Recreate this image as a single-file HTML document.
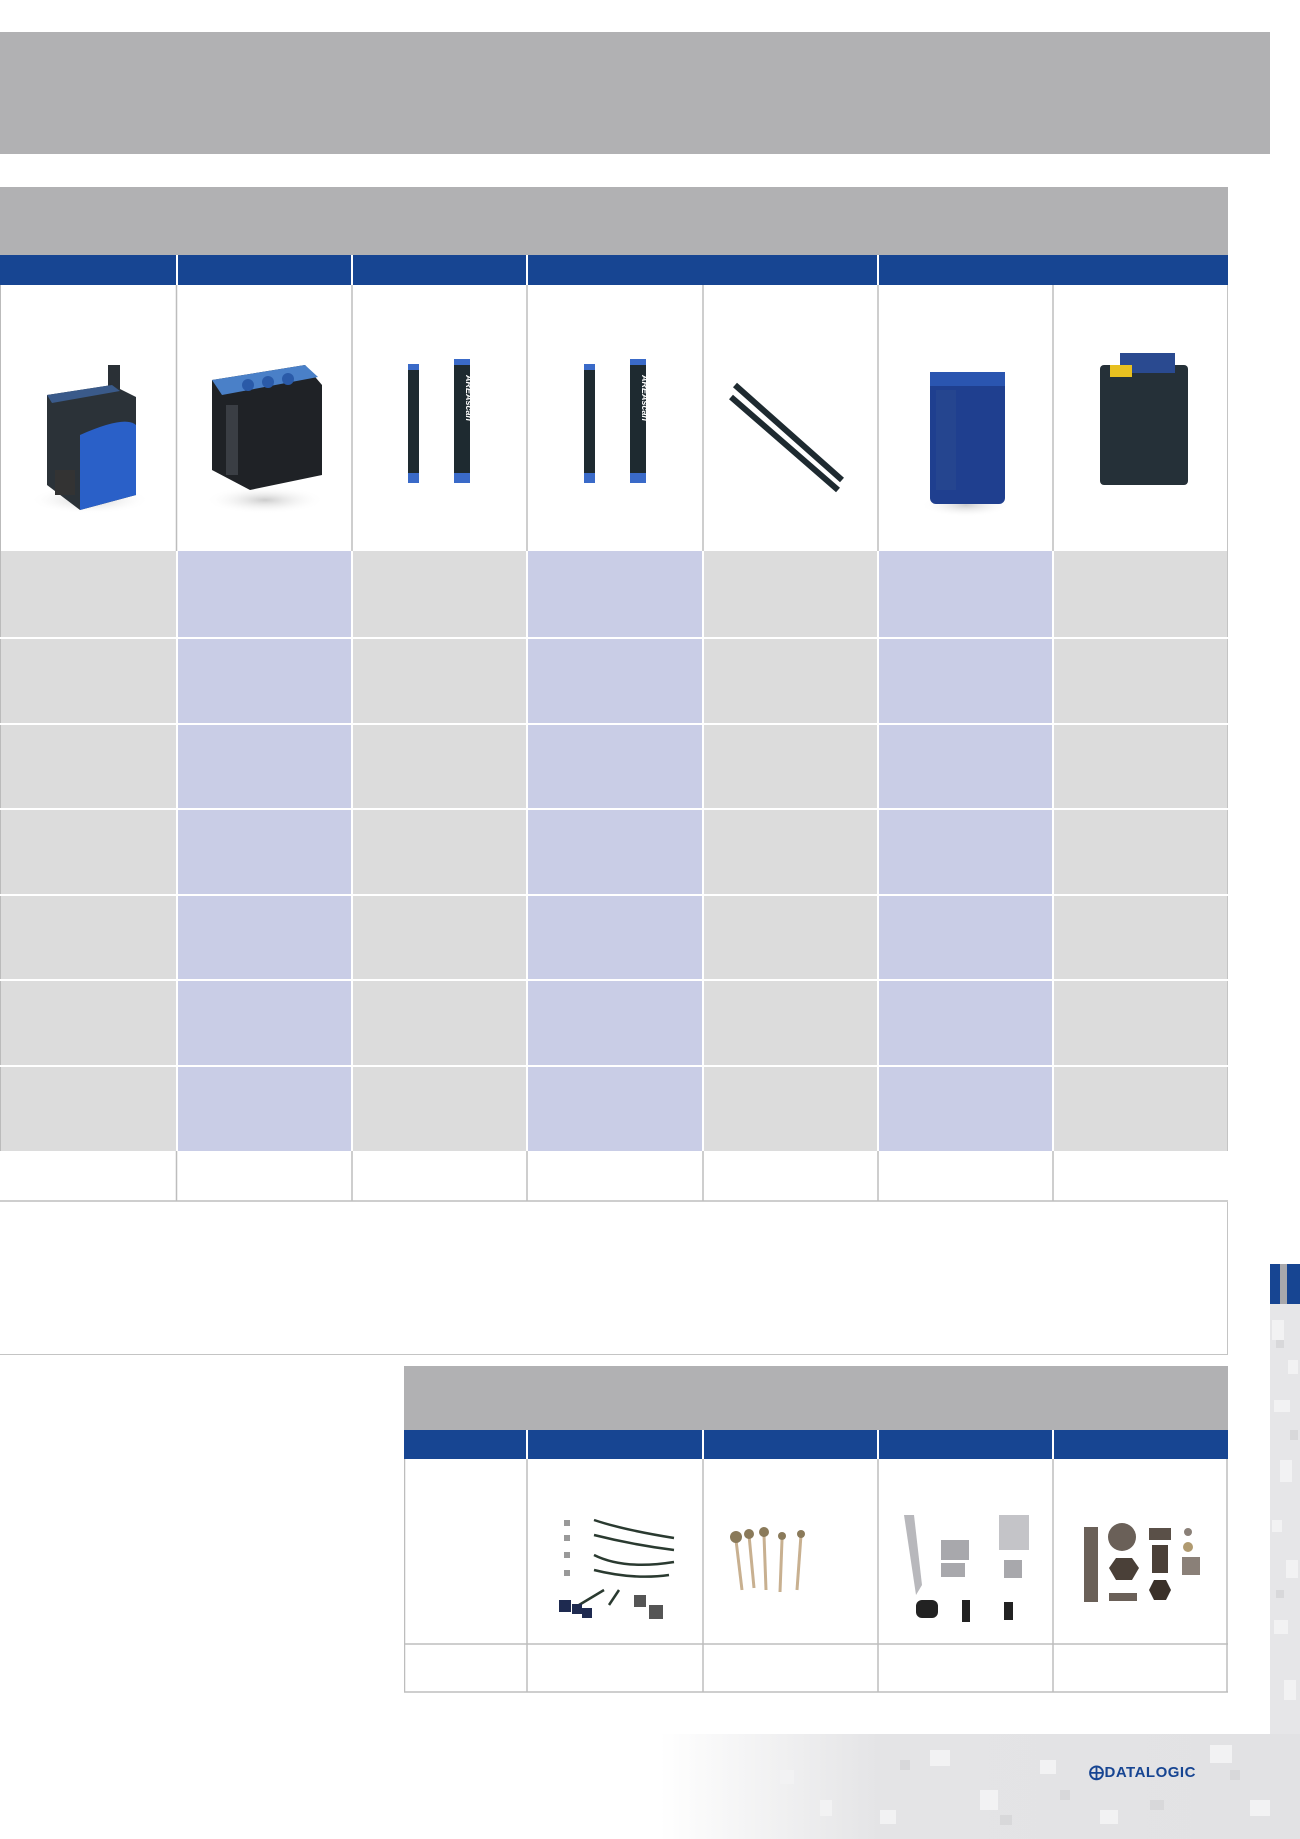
<!DOCTYPE html>
<html><head><meta charset="utf-8">
<style>
html,body{margin:0;padding:0}
body{width:1300px;height:1839px;position:relative;overflow:hidden;background:#fff;font-family:"Liberation Sans",sans-serif}
.a{position:absolute}
</style></head><body>
<!-- background pattern right & bottom -->
<div class="a" style="left:1270px;top:1304px;width:30px;height:535px;background:#e6e6e8"></div>
<div class="a" style="left:0;top:1734px;width:1300px;height:105px;background:linear-gradient(90deg,#fff 0,#fff 660px,#e4e4e6 880px,#e2e2e4 100%)"></div>
<svg class="a" style="left:0;top:0" width="1300" height="1839">
 <g fill="#f2f2f3">
  <rect x="1272" y="1320" width="12" height="20"/><rect x="1288" y="1360" width="10" height="14"/><rect x="1274" y="1400" width="16" height="12"/>
  <rect x="1280" y="1460" width="12" height="22"/><rect x="1272" y="1520" width="10" height="12"/><rect x="1286" y="1560" width="12" height="18"/>
  <rect x="1274" y="1620" width="14" height="14"/><rect x="1284" y="1680" width="12" height="20"/>
  <rect x="930" y="1750" width="20" height="16"/><rect x="980" y="1790" width="18" height="20"/><rect x="1040" y="1760" width="16" height="14"/>
  <rect x="1210" y="1745" width="22" height="18"/><rect x="1250" y="1800" width="20" height="16"/><rect x="880" y="1810" width="16" height="14"/>
  <rect x="780" y="1770" width="14" height="14"/><rect x="820" y="1800" width="12" height="16"/><rect x="1100" y="1810" width="18" height="14"/>
 </g>
 <g fill="#d8d8da">
  <rect x="1276" y="1340" width="8" height="8"/><rect x="1290" y="1430" width="8" height="10"/><rect x="1276" y="1590" width="8" height="8"/>
  <rect x="1000" y="1815" width="12" height="10"/><rect x="1150" y="1800" width="14" height="10"/><rect x="1230" y="1770" width="10" height="10"/>
  <rect x="900" y="1760" width="10" height="10"/><rect x="1060" y="1790" width="10" height="10"/>
 </g>
</svg>
<div class="a" style="left:0;top:0;width:1270px;height:1734px;background:#fff"></div>

<!-- top gray band -->
<div class="a" style="left:0;top:32px;width:1270px;height:122px;background:#b1b1b3"></div>
<!-- main table header -->
<div class="a" style="left:0;top:187px;width:1228px;height:68px;background:#b1b1b3"></div>
<div class="a" style="left:0;top:255px;width:1228px;height:30px;background:#174592"></div>
<div class="a" style="left:176px;top:255px;width:2px;height:30px;background:#fff"></div>
<div class="a" style="left:351px;top:255px;width:2px;height:30px;background:#fff"></div>
<div class="a" style="left:526px;top:255px;width:2px;height:30px;background:#fff"></div>
<div class="a" style="left:877px;top:255px;width:2px;height:30px;background:#fff"></div>

<!-- image row borders -->
<div class="a" style="left:0;top:285px;width:1px;height:916px;background:#bbb"></div>
<div class="a" style="left:1227px;top:285px;width:1px;height:1070px;background:#c4c4c4"></div>
<svg class="a" style="left:0;top:285px" width="1228" height="916">
 <g stroke="#bdbdbd" stroke-width="1.5">
  <line x1="176.5" y1="0" x2="176.5" y2="916"/><line x1="352" y1="0" x2="352" y2="916"/>
  <line x1="527" y1="0" x2="527" y2="916"/><line x1="703" y1="0" x2="703" y2="916"/>
  <line x1="878" y1="0" x2="878" y2="916"/><line x1="1053" y1="0" x2="1053" y2="916"/>
 </g>
</svg>
<!-- data rows -->
<svg class="a" style="left:0;top:551px" width="1228" height="651">
 <g>
  <rect x="1" y="0" width="175" height="600" fill="#dcdcdc"/>
  <rect x="178" y="0" width="173" height="600" fill="#c9cde6"/>
  <rect x="353" y="0" width="173" height="600" fill="#dcdcdc"/>
  <rect x="528" y="0" width="174" height="600" fill="#c9cde6"/>
  <rect x="704" y="0" width="173" height="600" fill="#dcdcdc"/>
  <rect x="879" y="0" width="173" height="600" fill="#c9cde6"/>
  <rect x="1054" y="0" width="173" height="600" fill="#dcdcdc"/>
 </g>
 <g fill="#fff">
  <rect x="0" y="86" width="1228" height="2"/><rect x="0" y="172" width="1228" height="2"/>
  <rect x="0" y="257" width="1228" height="2"/><rect x="0" y="343" width="1228" height="2"/>
  <rect x="0" y="428" width="1228" height="2"/><rect x="0" y="514" width="1228" height="2"/>
  <rect x="0" y="600" width="1228" height="51"/>
  <rect x="176" y="0" width="2" height="600"/><rect x="351" y="0" width="2" height="600"/>
  <rect x="526" y="0" width="2" height="600"/><rect x="702" y="0" width="2" height="600"/>
  <rect x="877" y="0" width="2" height="600"/><rect x="1052" y="0" width="2" height="600"/>
 </g>
 <g stroke="#bdbdbd" stroke-width="1.5">
  <line x1="176.5" y1="600" x2="176.5" y2="650"/><line x1="352" y1="600" x2="352" y2="650"/>
  <line x1="527" y1="600" x2="527" y2="650"/><line x1="703" y1="600" x2="703" y2="650"/>
  <line x1="878" y1="600" x2="878" y2="650"/><line x1="1053" y1="600" x2="1053" y2="650"/>
  <line x1="0" y1="650" x2="1228" y2="650"/>
 </g>
</svg>
<div class="a" style="left:0;top:1354px;width:1228px;height:1px;background:#c4c4c4"></div>

<!-- product images -->
<svg class="a" style="left:0;top:285px" width="1228" height="266">
 <defs>
  <radialGradient id="sh"><stop offset="0" stop-color="#999" stop-opacity=".5"/><stop offset="1" stop-color="#fff" stop-opacity="0"/></radialGradient>
 </defs>
 <ellipse cx="90" cy="215" rx="60" ry="14" fill="url(#sh)"/>
 <rect x="108" y="80" width="12" height="30" fill="#2a3036"/>
 <polygon points="47,110 112,100 136,112 136,210 80,225 47,200" fill="#2b3238"/>
 <polygon points="47,110 112,100 120,106 52,118" fill="#3a5a8a"/>
 <path d="M80,150 Q125,130 136,140 L136,210 L80,225 Z" fill="#2a60c8"/>
 <rect x="55" y="185" width="20" height="25" fill="#333"/>
 <ellipse cx="265" cy="215" rx="60" ry="14" fill="url(#sh)"/>
 <polygon points="212,95 305,80 322,100 322,190 250,205 212,185" fill="#1f2226"/>
 <polygon points="212,95 305,80 318,92 222,110" fill="#4a80c8"/>
 <circle cx="248" cy="100" r="6" fill="#2a5aa8"/><circle cx="268" cy="97" r="6" fill="#2a5aa8"/><circle cx="288" cy="94" r="6" fill="#2a5aa8"/>
 <rect x="226" y="120" width="12" height="70" fill="#3a3e44"/>
 <rect x="408" y="79" width="11" height="117" fill="#1e2a30"/><rect x="408" y="79" width="11" height="6" fill="#3a6ac8"/><rect x="408" y="188" width="11" height="10" fill="#3a6ac8"/>
 <rect x="454" y="74" width="16" height="122" fill="#1e2a30"/><rect x="454" y="74" width="16" height="6" fill="#3a6ac8"/><rect x="454" y="188" width="16" height="10" fill="#3a6ac8"/>
 <text x="0" y="0" transform="translate(466,90) rotate(90)" font-size="9" fill="#fff" font-style="italic" font-weight="bold">AREAscan</text>
 <rect x="584" y="79" width="11" height="117" fill="#1e2a30"/><rect x="584" y="79" width="11" height="6" fill="#3a6ac8"/><rect x="584" y="188" width="11" height="10" fill="#3a6ac8"/>
 <rect x="630" y="74" width="16" height="122" fill="#1e2a30"/><rect x="630" y="74" width="16" height="6" fill="#3a6ac8"/><rect x="630" y="188" width="16" height="10" fill="#3a6ac8"/>
 <text x="0" y="0" transform="translate(642,90) rotate(90)" font-size="9" fill="#fff" font-style="italic" font-weight="bold">AREAscan</text>
 <line x1="735" y1="100" x2="842" y2="195" stroke="#1e2a30" stroke-width="6"/>
 <line x1="731" y1="112" x2="838" y2="205" stroke="#1e2a30" stroke-width="6"/>
 <ellipse cx="966" cy="220" rx="45" ry="12" fill="url(#sh)"/>
 <rect x="930" y="87" width="75" height="132" rx="6" fill="#1f3f8f"/>
 <rect x="930" y="87" width="75" height="14" fill="#2a55b0"/>
 <rect x="936" y="105" width="20" height="100" fill="#2a4a90" opacity=".6"/>
 <rect x="1100" y="80" width="88" height="120" rx="4" fill="#253038"/>
 <rect x="1120" y="68" width="55" height="20" fill="#2a4a90"/>
 <rect x="1110" y="80" width="22" height="12" fill="#e8c020"/>
</svg>

<!-- bottom table -->
<div class="a" style="left:404px;top:1366px;width:824px;height:64px;background:#b1b1b3"></div>
<div class="a" style="left:404px;top:1430px;width:824px;height:29px;background:#174592"></div>
<svg class="a" style="left:404px;top:1430px" width="824" height="263">
 <g fill="#fff"><rect x="122" y="0" width="2" height="29"/><rect x="298" y="0" width="2" height="29"/><rect x="473" y="0" width="2" height="29"/><rect x="648" y="0" width="2" height="29"/></g>
 <g stroke="#bdbdbd" stroke-width="1.5">
  <line x1="0.5" y1="29" x2="0.5" y2="262"/><line x1="123" y1="29" x2="123" y2="262"/><line x1="299" y1="29" x2="299" y2="262"/>
  <line x1="474" y1="29" x2="474" y2="262"/><line x1="649" y1="29" x2="649" y2="262"/><line x1="823" y1="29" x2="823" y2="262"/>
  <line x1="0" y1="214" x2="824" y2="214"/><line x1="0" y1="262" x2="824" y2="262"/>
 </g>
 <g stroke="#2a3a30" stroke-width="2.5" fill="none">
  <path d="M190,90 Q220,100 270,108"/><path d="M190,105 Q230,115 270,120"/><path d="M190,125 Q220,140 270,132"/><path d="M190,140 Q230,150 265,145"/>
  <path d="M175,175 L200,160"/><path d="M205,175 L215,160"/>
 </g>
 <g fill="#999"><rect x="160" y="90" width="6" height="6"/><rect x="160" y="105" width="6" height="6"/><rect x="160" y="122" width="6" height="6"/><rect x="160" y="140" width="6" height="6"/></g>
 <g fill="#1e2a50"><rect x="155" y="170" width="12" height="12"/><rect x="168" y="174" width="10" height="10"/><rect x="178" y="178" width="10" height="10"/></g>
 <rect x="230" y="165" width="12" height="12" fill="#555"/><rect x="245" y="175" width="14" height="14" fill="#555"/>
 <g stroke="#c8b090" stroke-width="3"><line x1="332" y1="110" x2="338" y2="160"/><line x1="345" y1="105" x2="350" y2="158"/><line x1="360" y1="105" x2="362" y2="160"/><line x1="378" y1="110" x2="376" y2="162"/><line x1="397" y1="105" x2="393" y2="160"/></g>
 <g fill="#8a7a5a"><circle cx="332" cy="107" r="6"/><circle cx="345" cy="104" r="5"/><circle cx="360" cy="102" r="5"/><circle cx="378" cy="106" r="4"/><circle cx="397" cy="104" r="4"/></g>
 <polygon points="500,85 510,85 518,155 512,165" fill="#b8b8bc"/>
 <rect x="537" y="110" width="28" height="20" fill="#a8a8ac"/><rect x="537" y="133" width="24" height="14" fill="#a8a8ac"/>
 <rect x="595" y="85" width="30" height="35" fill="#c4c4c8"/><rect x="600" y="130" width="18" height="18" fill="#a8a8ac"/>
 <rect x="512" y="170" width="22" height="18" rx="6" fill="#222"/><rect x="558" y="170" width="8" height="22" fill="#222"/><rect x="600" y="172" width="9" height="18" fill="#222"/>
 <rect x="680" y="97" width="14" height="75" fill="#6a6058"/>
 <circle cx="718" cy="107" r="14" fill="#6a6058"/>
 <polygon points="705,138 712,128 728,128 735,138 728,150 712,150" fill="#4a4038"/>
 <rect x="745" y="98" width="22" height="12" fill="#5a5048"/><rect x="748" y="115" width="16" height="28" fill="#4a4038"/>
 <polygon points="745,160 750,150 762,150 767,160 762,170 750,170" fill="#3a3028"/>
 <rect x="778" y="127" width="18" height="18" fill="#8a8078"/><circle cx="784" cy="102" r="4" fill="#8a8078"/><circle cx="784" cy="117" r="5" fill="#b09a70"/>
 <rect x="705" y="163" width="28" height="8" fill="#6a6058"/>
</svg>

<!-- right tab -->
<div class="a" style="left:1270px;top:1264px;width:30px;height:40px;background:#174592"></div>
<div class="a" style="left:1280px;top:1264px;width:7px;height:40px;background:#a8a8ac"></div>

<!-- logo -->
<div class="a" style="left:1089px;top:1763px;font-size:15px;font-weight:bold;color:#174592;letter-spacing:0.5px">&#10753;DATALOGIC</div>
</body></html>
